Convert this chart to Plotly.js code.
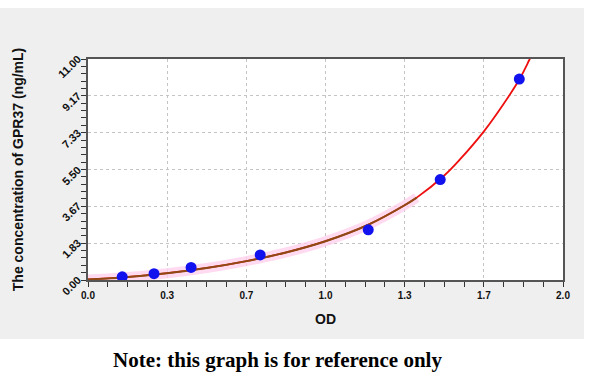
<!DOCTYPE html>
<html>
<head>
<meta charset="utf-8">
<script src="https://cdn.plot.ly/plotly-3.0.1.min.js"></script>
<style>
  html, body { margin: 0; padding: 0; background: #ffffff; }
  #bg { position: absolute; left: 0; top: 8px; width: 584px; height: 331px; background: #efefef; }
  #wrap { position: absolute; left: 0; top: 0; width: 600px; height: 392px; }
  #chart { position: absolute; left: 0; top: 0; width: 600px; height: 392px; }
  .ylab { position: absolute; font-family: 'Liberation Sans', Arial, sans-serif; font-weight: bold;
          font-size: 11px; line-height: 12px; height: 12px; color: #111; white-space: nowrap;
          transform-origin: 100% 50%; transform: rotate(-45deg); text-align: right; }
</style>
</head>
<body>
<div id="bg"></div>
<div id="wrap"><div id="chart"></div></div>
<script>
// Standard points (OD vs concentration)
const odValues = [0.144, 0.278, 0.434, 0.725, 1.180, 1.483, 1.816];
const concValues = [0.156, 0.312, 0.625, 1.25, 2.5, 5, 10];

// Fitted curve
const curveX = [0.00, 0.144, 0.333, 0.50, 0.667, 0.83, 1.00, 1.18, 1.333, 1.384, 1.50, 1.566, 1.667, 1.749, 1.816, 1.858, 1.90];
const curveY = [0.03, 0.13, 0.34, 0.60, 0.94, 1.36, 1.93, 2.75, 3.72, 4.10, 5.20, 6.00, 7.40, 8.75, 9.98, 10.95, 12.0];
// brown segment runs from x = 0 up to x = 1.384 (first 10 samples)
const brownCount = 10;

const xTickVals = [0, 1/3, 2/3, 1, 4/3, 5/3, 2];
const xTickText = ["0.0", "0.3", "0.7", "1.0", "1.3", "1.7", "2.0"];
const yTickVals = [0, 11/6, 22/6, 33/6, 44/6, 55/6, 11];
const yTickText = ["0.00", "1.83", "3.67", "5.50", "7.33", "9.17", "11.00"];

const brownX = curveX.slice(0, brownCount);
const brownY = curveY.slice(0, brownCount);

const traces = [
  { x: brownX, y: brownY, mode: 'lines', line: { color: 'rgba(255,205,235,0.75)', width: 10, shape: 'spline', smoothing: 1 }, hoverinfo: 'skip' },
  { x: curveX, y: curveY, mode: 'lines', line: { color: '#ee1010', width: 1.8, shape: 'spline', smoothing: 1 } },
  { x: brownX, y: brownY, mode: 'lines', line: { color: '#8e4a16', width: 2, shape: 'spline', smoothing: 1 } },
  { x: odValues, y: concValues, mode: 'markers', marker: { color: '#1212ee', size: 11, line: { width: 0 } } }
];

const tickFont = { family: 'Liberation Sans, Arial, sans-serif', size: 10, color: '#111', weight: 'bold' };

const layout = {
  width: 600, height: 392,
  paper_bgcolor: 'rgba(0,0,0,0)',
  plot_bgcolor: '#ffffff',
  showlegend: false,
  margin: { l: 88, r: 37, t: 59, b: 112 },
  xaxis: {
    range: [0, 2], tickvals: xTickVals, ticktext: xTickText,
    ticks: 'outside', ticklen: 5, tickcolor: '#333', tickwidth: 1,
    showline: true, linecolor: '#555', linewidth: 2, mirror: true,
    showgrid: true, gridcolor: '#c4c4c4', griddash: 'dot', gridwidth: 1,
    zeroline: false, tickfont: tickFont,
    minor: { dtick: 1/12, tick0: 0, ticks: 'outside', ticklen: 5, tickcolor: '#333', showgrid: false },
    title: { text: 'OD', font: { family: 'Liberation Sans, Arial, sans-serif', size: 14, color: '#111', weight: 'bold' }, standoff: 14 }
  },
  yaxis: {
    range: [0, 11], tickvals: yTickVals, showticklabels: false,
    ticks: 'outside', ticklen: 5, tickcolor: '#333', tickwidth: 1,
    showline: true, linecolor: '#555', linewidth: 2, mirror: true,
    showgrid: true, gridcolor: '#c4c4c4', griddash: 'dot', gridwidth: 1,
    zeroline: false,
    minor: { dtick: 11/30, tick0: 0, ticks: 'outside', ticklen: 5, tickcolor: '#333', showgrid: false },
    title: { text: 'The concentration of GPR37 (ng/mL)', font: { family: 'Liberation Sans, Arial, sans-serif', size: 14, color: '#111', weight: 'bold' }, standoff: 54 }
  },
  annotations: [{
    text: 'Note: this graph is for reference only',
    xref: 'paper', yref: 'paper', x: 0.398, y: -0.362, xanchor: 'center', yanchor: 'middle',
    showarrow: false,
    font: { family: 'Liberation Serif, Times New Roman, serif', size: 21, color: '#000', weight: 'bold' }
  }]
};

Plotly.newPlot('chart', traces, layout, { displayModeBar: false, staticPlot: true }).then(gd => {
  // slanted y tick labels placed with the axis' own scale
  const ya = gd._fullLayout.yaxis;
  const xa = gd._fullLayout.xaxis;
  const wrap = document.getElementById('wrap');
  yTickVals.forEach((v, i) => {
    const py = ya._offset + ya.l2p(v);
    const el = document.createElement('div');
    el.className = 'ylab';
    el.textContent = yTickText[i];
    const rightEdge = xa._offset - 9;
    el.style.width = '44px';
    el.style.left = (rightEdge - 44) + 'px';
    el.style.top = (py - 2 - 6) + 'px';
    wrap.appendChild(el);
  });
});
</script>
</body>
</html>
